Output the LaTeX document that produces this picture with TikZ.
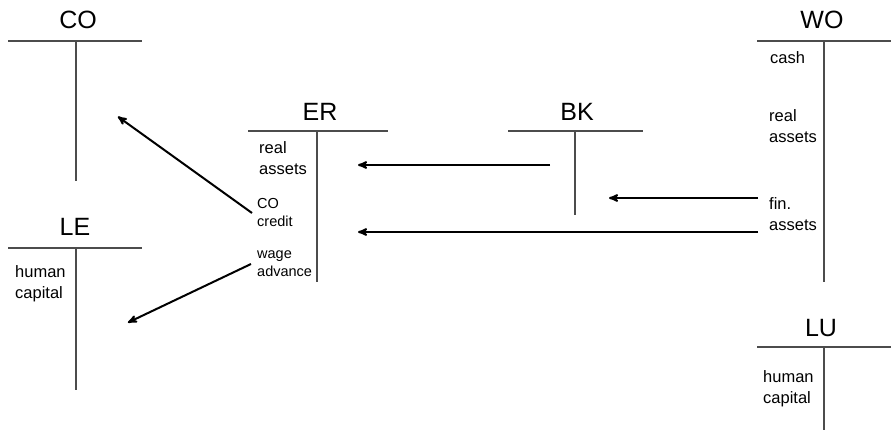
\documentclass[tikz,border=0pt]{standalone}
\usepackage{fontspec}
\setmainfont{Liberation Sans}
\usetikzlibrary{arrows}

\begin{document}
\begin{tikzpicture}[
                x=1pt,
                y=-1pt,
                > =stealth',
                account/.style={font=\fontsize{25}{29}\selectfont, inner sep=0pt},
                item/.style={font=\fontsize{16.5}{21}\selectfont, align=left,
                    anchor=west, inner sep=0pt},
                smallitem/.style={font=\fontsize{14.5}{18}\selectfont, align=left,
                    anchor=west, inner sep=0pt},
                tline/.style={draw=black!70, line width=1.1pt},
                flow/.style={->, draw=black, line width=2pt, shorten >=1pt},
            ]
            \useasboundingbox (0,0) rectangle (891,430);

            \node[account] (CO) at (78,20) {CO} ;
            \node[account] (LE) at (75,227) {LE} ;
            \node[account] (ER) at (320,112) {ER} ;
            \node[account] (BK) at (577,112) {BK} ;
            \node[account] (WO) at (822,20) {WO} ;
            \node[account] (LU) at (821,328) {LU} ;

            \draw[tline] (8,41) -- (142,41) (76,41) -- (76,181) ;
            \draw[tline] (8,248) -- (142,248) (76,248) -- (76,390) ;
            \draw[tline] (248,131) -- (388,131) (317,131) -- (317,282) ;
            \draw[tline] (508,131) -- (643,131) (575,131) -- (575,215) ;
            \draw[tline] (757,41) -- (891,41) (824,41) -- (824,282) ;
            \draw[tline] (757,347) -- (891,347) (824,347) -- (824,430) ;

            \node[item] (humLE) at (15,284) {human\\capital} ;
            \node[item] (realER) at (259,158) {real\\assets} ;
            \node[smallitem] (creditER) at (257,213) {CO\\credit} ;
            \node[smallitem] (wageER) at (257,264) {wage\\advance} ;
            \node[item] (cashWO) at (770,58) {cash} ;
            \node[item] (realWO) at (769,126) {real\\assets} ;
            \node[item] (finWO) at (769,214) {fin.\\assets} ;
            \node[item] (humLU) at (763,389) {human\\capital} ;

            \coordinate (toCO) at (117,116) ;
            \coordinate (toLE) at (127,323) ;
            \coordinate (fromBK) at (550,165) ;
            \coordinate (toER) at (357,165) ;
            \coordinate (fromWO) at (758,198) ;
            \coordinate (toBK) at (608,198) ;
            \coordinate (fromWO2) at (758,232) ;
            \coordinate (toER2) at (357,232) ;

            \draw[flow] ([xshift=-5pt]creditER.west) -- (toCO) ;
            \draw[flow] ([xshift=-6pt]wageER.west) -- (toLE) ;
            \draw[flow] (fromBK) -- (toER) ;
            \draw[flow] (fromWO) -- (toBK) ;
            \draw[flow] (fromWO2) -- (toER2) ;
        \end{tikzpicture}
\end{document}
